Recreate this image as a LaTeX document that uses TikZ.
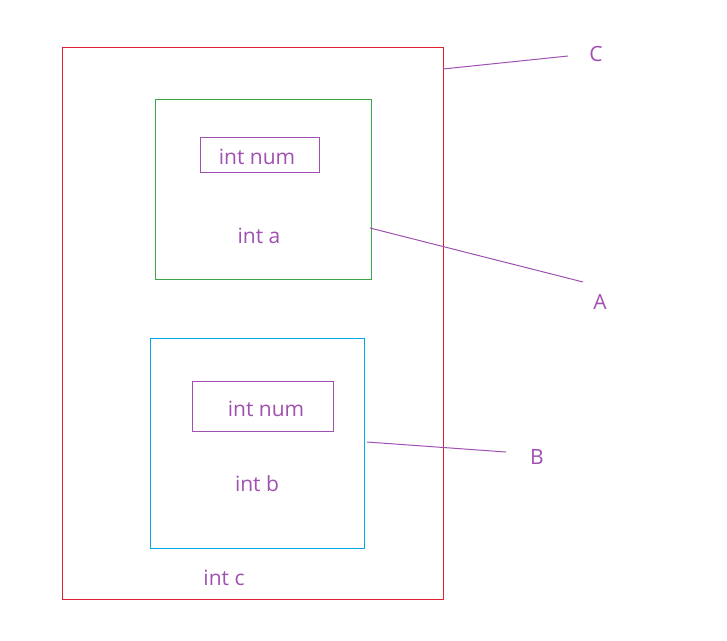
\documentclass[tikz,border=0pt]{standalone}
\usepackage{fontspec}
\setmainfont{Open Sans}
\definecolor{cred}{HTML}{E02030}
\definecolor{cgreen}{HTML}{3AA54A}
\definecolor{ccyan}{HTML}{00A8E8}
\definecolor{cpurple}{HTML}{A050B0}
\begin{document}
\begin{tikzpicture}[x=1pt,y=-1pt,
  box/.style={draw,line width=1pt,inner sep=0pt},
  lbl/.style={text=cpurple,font=\fontsize{21}{24}\selectfont,inner sep=0pt},
  lead/.style={draw=cpurple,line width=1pt}]
\useasboundingbox (0,0) rectangle (727,640);
\draw[box,cred] (62,47) rectangle (443,599);
\draw[box,cgreen] (155,99) rectangle (371,279);
\draw[box,cpurple] (200,137) rectangle (319,172);
\draw[box,ccyan] (150,338) rectangle (364,548);
\draw[box,cpurple] (192,381) rectangle (333,431);
\node[lbl] (numa) at (257,157) {int num};
\node[lbl] (inta) at (259,236) {int a};
\node[lbl] (numb) at (266,409) {int num};
\node[lbl] (intb) at (257,484) {int b};
\node[lbl] (intc) at (224,578) {int c};
\node[lbl] (C) at (596,54) {C};
\node[lbl] (A) at (600,302) {A};
\node[lbl] (B) at (537,457) {B};
\coordinate (c1) at (443,69); \coordinate (c2) at (568,56);
\coordinate (a1) at (370,228); \coordinate (a2) at (583,282);
\coordinate (b1) at (367,442); \coordinate (b2) at (506,452);
\draw[lead] (c1) -- (c2);
\draw[lead] (a1) -- (a2);
\draw[lead] (b1) -- (b2);
\end{tikzpicture}
\end{document}
